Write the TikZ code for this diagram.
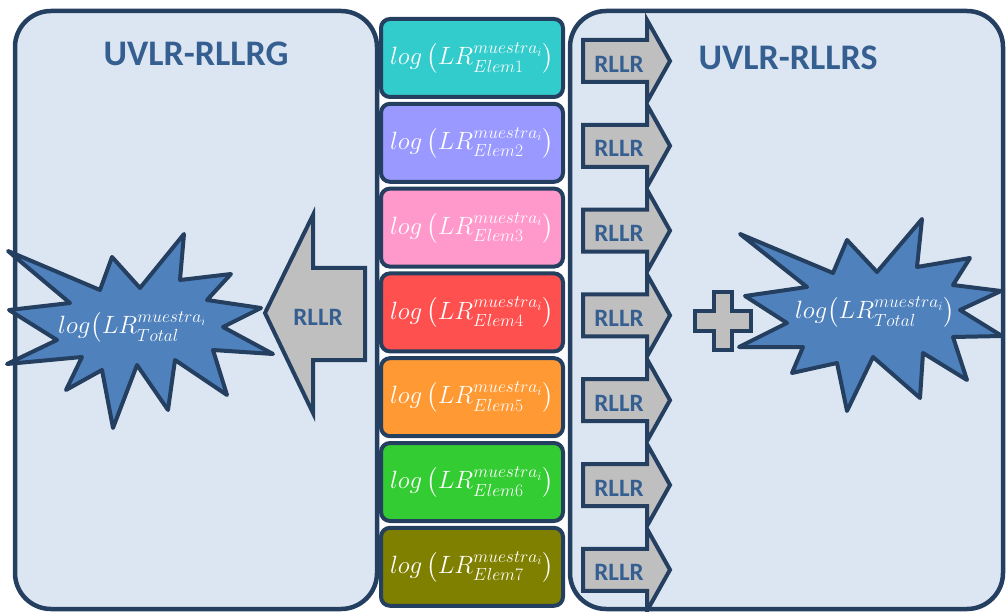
\RequirePackage{fix-cm}
\documentclass[tikz,border=0pt]{standalone}
\usepackage[no-math]{fontspec}
\setmainfont{Carlito}
\usepackage{amsmath}
\definecolor{panelfill}{HTML}{DCE6F2}
\definecolor{navy}{HTML}{243F60}
\definecolor{titleblue}{HTML}{365F91}
\definecolor{arrowgray}{HTML}{BFBFBF}
\definecolor{burst}{HTML}{4F81BD}
\definecolor{c1}{HTML}{33CCCC}
\definecolor{c2}{HTML}{9999FF}
\definecolor{c3}{HTML}{FF99CC}
\definecolor{c4}{HTML}{FF5050}
\definecolor{c5}{HTML}{FF9933}
\definecolor{c6}{HTML}{33CC33}
\definecolor{c7}{HTML}{808000}
\begin{document}
\begin{tikzpicture}[x=1pt,y=-1pt,
  panel/.style={draw=navy,line width=4.5pt,fill=panelfill,rounded corners=36pt,inner sep=0pt},
  elembox/.style={draw=navy,line width=4pt,rounded corners=9pt,minimum width=182pt,
    minimum height=78pt,inner sep=0pt,text=white,font=\fontsize{25}{30}\selectfont},
  blockarrow/.style={draw=navy,line width=4pt,fill=arrowgray,line join=miter},
  arrowlabel/.style={text=titleblue,font=\fontsize{25}{30}\selectfont\bfseries,inner sep=0pt},
  paneltitle/.style={text=titleblue,font=\fontsize{36}{42}\selectfont\bfseries,inner sep=0pt},
  burststyle/.style={draw=navy,line width=4pt,fill=burst,line join=round},
  bursttext/.style={text=white,font=\fontsize{25}{30}\selectfont,inner sep=0pt}]
\useasboundingbox (0,0) rectangle (1006,612);

% the two panels
\node[panel,minimum width=362pt,minimum height=598pt] (rllrg) at (196,310) {};
\node[panel,minimum width=433pt,minimum height=598pt] (rllrs) at (786.5,310) {};
\node[paneltitle] (rllrgtitle) at (196,54) {UVLR-RLLRG};
\node[paneltitle] (rllrstitle) at (788,58) {UVLR-RLLRS};

% the seven element boxes, each with its RLLR arrow
\foreach \i in {1,...,7} {
  \pgfmathsetmacro\cy{58+84.8*(\i-1)}
  \node[elembox,fill=c\i] (elem\i) at (472,\cy)
    {$log\left(LR^{muestra_i}_{Elem\i}\right)$};
  \draw[blockarrow] (583,\cy-18) -- (647,\cy-18) -- (647,\cy-38) -- (670,\cy+3)
    -- (647,\cy+44) -- (647,\cy+24) -- (583,\cy+24) -- cycle;
  \node[arrowlabel] (rllr\i) at (619,\cy+6) {RLLR};
}

% large arrow into the left panel
\draw[blockarrow] (265,313) -- (313,215) -- (313,268) -- (365,268) -- (365,360)
  -- (313,360) -- (313,413) -- cycle;
\node[arrowlabel] (rllrglabel) at (318,317) {RLLR};

% plus sign
\draw[blockarrow] (714,292) -- (732,292) -- (732,311) -- (751,311) -- (751,331)
  -- (732,331) -- (732,350) -- (714,350) -- (714,331) -- (695,331) -- (695,311)
  -- (714,311) -- cycle;

% left burst
\draw[burststyle] (8,251) -- (100,290) -- (112,257) -- (140,288) -- (184,234)
  -- (180,280) -- (231,274) -- (207,300) -- (261,308) -- (223,327) -- (273,354)
  -- (213,350) -- (227,395) -- (175,360) -- (168,410) -- (137,365) -- (113,428)
  -- (102,370) -- (66,390) -- (82,357) -- (7,364) -- (57,340) -- (9,310)
  -- (70,303) -- cycle;
\begin{scope}
  \clip (0,200) rectangle (203,450);
  \node[bursttext,anchor=west] (gtotal) at (58,327)
    {$log\bigl(LR^{muestra_i}_{Total}\bigr)$};
\end{scope}

% right burst
\draw[burststyle] (740,234) -- (833,273) -- (847,240) -- (877,272) -- (922,219)
  -- (917,267) -- (970,258) -- (953,285) -- (1001,291) -- (960,310) -- (1002,336)
  -- (953,337) -- (967,380) -- (923,353) -- (920,398) -- (873,357) -- (847,411)
  -- (837,363) -- (792,373) -- (803,347) -- (739,347) -- (787,323) -- (745,296)
  -- (807,287) -- cycle;
\node[bursttext] (stotal) at (875,312) {$log\bigl(LR^{muestra_i}_{Total}\bigr)$};
\end{tikzpicture}
\end{document}
